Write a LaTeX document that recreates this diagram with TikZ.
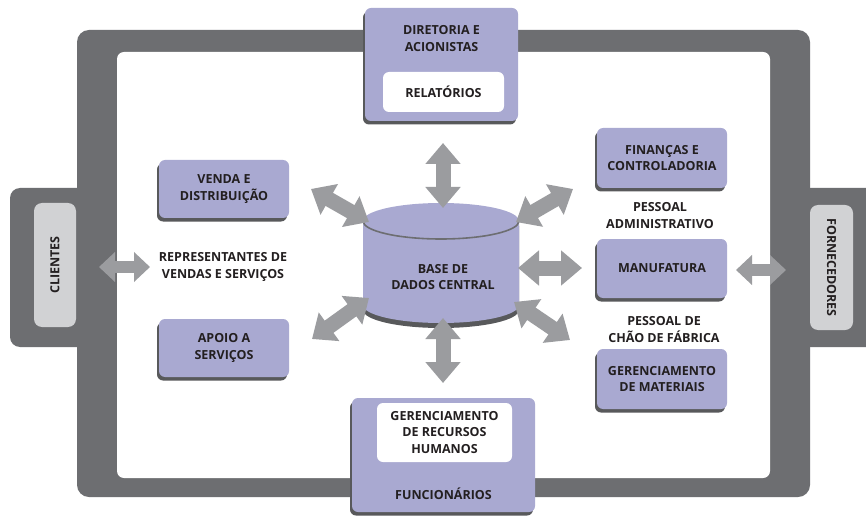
\documentclass[tikz,border=0pt]{standalone}
\usepackage{fontspec}
\setmainfont{Open Sans}
\usetikzlibrary{arrows.meta,shadows}
\definecolor{framegray}{HTML}{6D6E71}
\definecolor{purp}{HTML}{A9A9D1}
\definecolor{shad}{HTML}{58595B}
\definecolor{lgray}{HTML}{D1D2D4}
\definecolor{arrgray}{HTML}{9B9C9F}
\definecolor{txt}{HTML}{231F20}
\begin{document}
\begin{tikzpicture}[x=1pt,y=-1pt,
  lbl/.style={font=\bfseries\fontsize{12.5}{16.5}\selectfont, text=txt, align=center},
  pbox/.style={lbl, fill=purp, rounded corners=6pt, inner sep=0pt,
     drop shadow={shadow xshift=-2pt, shadow yshift=-3.5pt, fill=shad, opacity=1}},
  wbox/.style={lbl, fill=white, rounded corners=6pt, inner sep=0pt},
  gbox/.style={lbl, fill=lgray, rounded corners=8pt, inner sep=0pt},
  bigarrow/.style={draw=arrgray, line width=15pt,
     {Triangle[length=21pt,width=34pt]}-{Triangle[length=21pt,width=34pt]}},
  smallarrow/.style={draw=arrgray, line width=12pt,
     {Triangle[length=16pt,width=29pt]}-{Triangle[length=16pt,width=29pt]}}]
\useasboundingbox (0,0) rectangle (866,521);
\fill[white] (0,0) rectangle (866,521);
% frame
\fill[framegray, rounded corners=12pt] (77,30) rectangle (810,497);
\fill[framegray, rounded corners=10pt] (10,188) rectangle (130,347);
\fill[framegray, rounded corners=10pt] (750,188) rectangle (880,347);
\fill[white, rounded corners=7pt] (117,52) rectangle (770,478);
% side labels
\node[gbox, minimum width=42pt, minimum height=124pt] (cli) at (55,265) {};
\node[lbl, rotate=90] at (cli.center) {CLIENTES};
\node[gbox, minimum width=43pt, minimum height=125pt] (forn) at (831.5,267.5) {};
\node[lbl, rotate=-90] at (forn.center) {FORNECEDORES};
% top box
\node[pbox, minimum width=153pt, minimum height=113pt] (dir) at (441.5,64.5) {};
\node[lbl] at (441.5,38.5) {DIRETORIA E\\ACIONISTAS};
\node[wbox, minimum width=121pt, minimum height=40pt] (rel) at (443.5,92) {RELATÓRIOS};
% bottom box
\node[pbox, minimum width=183pt, minimum height=114pt] (func) at (443.5,455) {};
\node[wbox, minimum width=135pt, minimum height=59pt] (rh) at (444.5,432.5) {GERENCIAMENTO\\DE RECURSOS\\HUMANOS};
\node[lbl] at (443.5,494) {FUNCIONÁRIOS};
% left boxes
\node[pbox, minimum width=130pt, minimum height=58pt] (venda) at (224,189) {VENDA E\\DISTRIBUIÇÃO};
\node[pbox, minimum width=130pt, minimum height=58pt] (apoio) at (224,348) {APOIO A\\SERVIÇOS};
\node[lbl] (rep) at (223,267) {REPRESENTANTES DE\\VENDAS E SERVIÇOS};
% right boxes
\node[pbox, minimum width=130pt, minimum height=60pt] (fin) at (662,158) {FINANÇAS E\\CONTROLADORIA};
\node[pbox, minimum width=130pt, minimum height=59pt] (manu) at (662,268.5) {MANUFATURA};
\node[pbox, minimum width=130pt, minimum height=60pt] (mat) at (662,379) {GERENCIAMENTO\\DE MATERIAIS};
\node[lbl] (adm) at (660,215.5) {PESSOAL\\ADMINISTRATIVO};
\node[lbl] (chao) at (664,329.5) {PESSOAL DE\\CHÃO DE FÁBRICA};
% cylinder
\fill[shad] (363,226) arc[start angle=180, end angle=0, x radius=78pt, y radius=18pt]
   -- (519,310) arc[start angle=0, end angle=-180, x radius=78pt, y radius=18pt] -- cycle;
\fill[purp] (363,221) arc[start angle=180, end angle=0, x radius=78pt, y radius=18pt]
   -- (519,305) arc[start angle=0, end angle=-180, x radius=78pt, y radius=18pt] -- cycle;
\draw[framegray, line width=1.6pt] (363,221) arc[start angle=180, end angle=360, x radius=78pt, y radius=18pt];
\node[lbl] (db) at (443,277) {BASE DE\\DADOS CENTRAL};
% arrow end points
\coordinate (uA) at (443,143); \coordinate (uB) at (443,208);
\coordinate (dA) at (443,318); \coordinate (dB) at (443,383);
\coordinate (ulA) at (311,189); \coordinate (ulB) at (369,222);
\coordinate (llA) at (369,298); \coordinate (llB) at (312,339);
\coordinate (urA) at (516,222); \coordinate (urB) at (573,189);
\coordinate (rA) at (518,268); \coordinate (rB) at (582,268);
\coordinate (lrA) at (514,302); \coordinate (lrB) at (570,340);
\coordinate (cA) at (99,267); \coordinate (cB) at (150,267);
\coordinate (fA) at (736,270); \coordinate (fB) at (786,270);
\draw[bigarrow] (uA) -- (uB);
\draw[bigarrow] (dA) -- (dB);
\draw[bigarrow] (ulA) -- (ulB);
\draw[bigarrow] (llA) -- (llB);
\draw[bigarrow] (urA) -- (urB);
\draw[bigarrow] (rA) -- (rB);
\draw[bigarrow] (lrA) -- (lrB);
\draw[smallarrow] (cA) -- (cB);
\draw[smallarrow] (fA) -- (fB);
\end{tikzpicture}
\end{document}
